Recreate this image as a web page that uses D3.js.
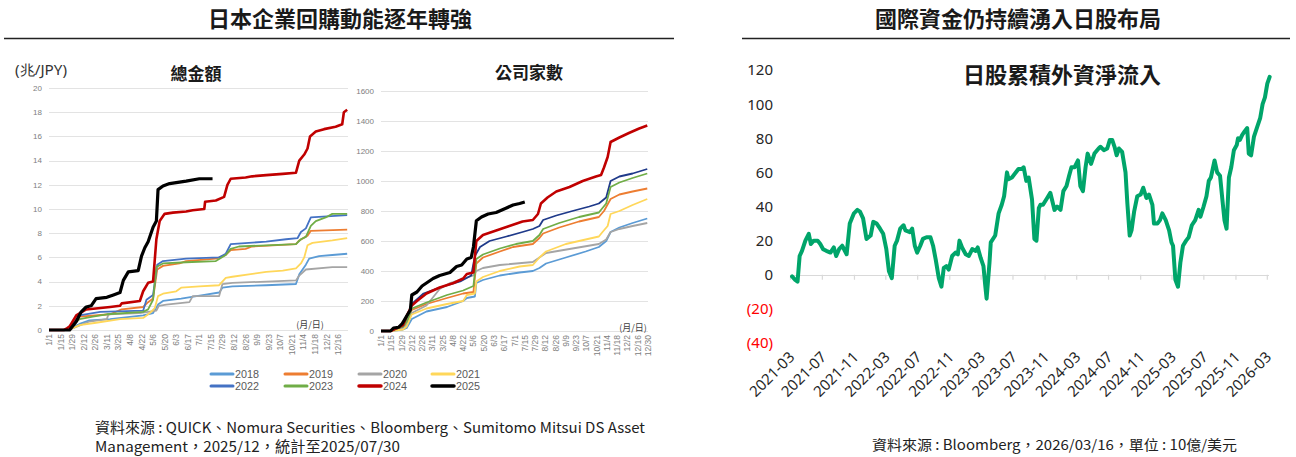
<!DOCTYPE html>
<html><head><meta charset="utf-8">
<script src="https://cdn.jsdelivr.net/npm/d3@7"></script>
<style>
body{margin:0;background:#fff;}
svg{display:block;font-family:"Noto Sans CJK TC","Noto Sans",sans-serif;}
</style></head><body>
<svg id="c" width="1296" height="457"></svg>
<script>
// ---------- data ----------
const years = ["2018","2019","2020","2021","2022","2023","2024","2025"];
const yearColors = ["#5B9BD5","#ED7D31","#A5A5A5","#FFD75A","#4472C4","#70AD47","#C00000","#000000"];
const yearColorsCount = ["#5B9BD5","#ED7D31","#A5A5A5","#FFD75A","#1F3A8A","#70AD47","#C00000","#000000"];
const amountTicks = [0,2,4,6,8,10,12,14,16,18,20];
const countTicks = [0,200,400,600,800,1000,1200,1400,1600];
const dayLabels = ["1/1","1/15","1/29","2/12","2/26","3/11","3/25","4/8","4/22","5/6","5/20","6/3","6/17","7/1","7/15","7/29","8/12","8/26","9/9","9/23","10/7","10/21","11/4","11/18","12/2","12/16","12/30"];

// 總金額 (兆日圓) : [day of year, value]
const amount2018 = [[0,0],[25,0],[27,0.2],[37,0.5],[49,0.8],[74,0.9],[114,1.2],[126,1.4],[132,2.1],[138,2.4],[160,2.6],[188,2.9],[206,3.1],[210,3.5],[222,3.6],[263,3.7],[299,3.8],[303,4.6],[311,5.4],[315,5.9],[327,6.1],[343,6.2],[361,6.3]];
const amount2019 = [[0,0],[25,0],[27,0.3],[37,1.1],[74,1.3],[88,1.7],[114,1.9],[120,2.3],[126,2.6],[131,5.0],[138,5.3],[158,5.5],[166,5.7],[202,5.9],[214,6.2],[220,6.6],[238,6.7],[246,6.9],[299,7.1],[303,7.4],[313,7.8],[317,8.2],[361,8.3]];
const amount2020 = [[0,0],[25,0],[27,0.1],[49,0.7],[70,0.9],[72,1.3],[110,1.4],[130,1.6],[133,2.0],[142,2.1],[170,2.3],[174,2.8],[206,2.8],[210,3.8],[222,3.9],[263,4.0],[299,4.1],[303,4.5],[311,5.0],[343,5.2],[361,5.2]];
const amount2021 = [[0,0],[25,0],[27,0.1],[37,0.4],[57,0.6],[86,0.9],[114,1.0],[122,1.4],[128,1.8],[132,2.8],[138,3.0],[154,3.2],[160,3.5],[182,3.6],[206,3.7],[214,4.3],[222,4.4],[242,4.6],[263,4.8],[283,4.9],[299,5.1],[305,5.5],[309,6.0],[313,7.0],[319,7.2],[343,7.4],[361,7.6]];
const amount2022 = [[0,0],[25,0],[27,0.4],[37,1.2],[62,1.5],[114,1.6],[118,2.5],[126,2.9],[131,5.4],[138,5.7],[166,5.9],[206,6.0],[214,6.3],[220,7.1],[263,7.3],[287,7.5],[301,7.6],[305,8.1],[311,8.4],[317,9.3],[361,9.5]];
const amount2023 = [[0,0],[25,0],[27,0.3],[37,0.9],[53,1.1],[70,1.3],[114,1.5],[120,1.7],[126,2.5],[130,5.2],[138,5.5],[166,5.6],[202,5.7],[214,6.2],[220,6.7],[230,6.9],[263,7.0],[299,7.1],[305,7.5],[311,7.7],[317,8.6],[323,9.0],[335,9.3],[343,9.6],[361,9.6]];
const amount2024 = [[0,0],[18,0],[21,0.1],[25,0.3],[33,1.2],[45,1.7],[74,1.9],[86,2.0],[88,2.2],[110,2.4],[114,3.2],[120,3.9],[126,4.0],[130,7.5],[134,9.0],[140,9.6],[150,9.7],[166,9.8],[174,9.9],[188,10.0],[189,10.6],[202,10.7],[212,11.0],[216,12.0],[220,12.5],[238,12.6],[246,12.7],[263,12.8],[283,12.9],[299,13.0],[303,14.0],[309,14.5],[313,15.0],[316,16.0],[323,16.4],[333,16.6],[347,16.8],[355,17.0],[357,18.0],[361,18.2]];
const amount2025 = [[0,0],[25,0],[33,0.7],[39,1.5],[45,1.9],[51,2.0],[57,2.6],[70,2.7],[78,2.9],[86,3.1],[90,4.1],[96,4.8],[108,4.9],[112,6.1],[116,6.8],[120,7.3],[126,8.5],[130,9.0],[132,11.6],[138,11.9],[146,12.1],[166,12.3],[182,12.5],[198,12.5]];

// 公司家數 : [day of year, value]
const count2018 = [[0,0],[13,0],[30,10],[35,20],[42,80],[62,130],[90,160],[112,200],[117,220],[128,230],[130,320],[139,340],[162,370],[189,390],[207,400],[216,420],[225,450],[252,490],[279,530],[297,560],[307,600],[313,660],[325,690],[343,720],[363,750]];
const count2019 = [[0,0],[13,0],[30,30],[35,60],[42,140],[62,180],[90,220],[112,250],[126,260],[130,450],[139,490],[162,530],[180,560],[207,580],[216,620],[221,650],[243,690],[270,730],[297,760],[304,800],[313,880],[325,910],[343,930],[363,950]];
const count2020 = [[0,0],[13,0],[30,20],[35,40],[42,120],[62,170],[80,280],[94,320],[126,370],[130,400],[139,420],[162,440],[207,460],[216,490],[225,520],[261,550],[297,580],[307,610],[313,660],[325,680],[343,700],[363,720]];
const count2021 = [[0,0],[13,0],[30,10],[35,30],[42,110],[62,150],[90,180],[112,200],[117,240],[128,250],[130,330],[139,360],[162,400],[189,430],[207,440],[216,490],[225,530],[252,580],[279,610],[297,630],[302,660],[309,700],[313,780],[325,800],[343,840],[363,880]];
const count2022 = [[0,0],[13,0],[30,30],[35,80],[42,180],[58,250],[80,290],[108,330],[123,370],[128,500],[135,560],[148,600],[171,630],[193,660],[207,680],[216,700],[221,740],[239,770],[261,800],[284,830],[297,850],[307,890],[313,1000],[325,1030],[343,1050],[363,1080]];
const count2023 = [[0,0],[13,0],[30,30],[35,60],[42,150],[62,190],[90,240],[112,270],[126,300],[130,480],[139,510],[162,550],[184,580],[207,600],[216,640],[221,680],[243,720],[270,760],[297,790],[307,850],[313,960],[325,990],[343,1020],[363,1050]];
const count2024 = [[0,0],[13,0],[30,40],[35,100],[42,170],[49,200],[62,250],[80,290],[99,320],[112,350],[117,380],[126,390],[130,600],[139,640],[157,670],[175,700],[193,730],[207,740],[214,780],[218,850],[227,890],[239,930],[257,960],[275,1000],[293,1030],[300,1040],[304,1090],[309,1160],[313,1260],[325,1290],[338,1320],[352,1350],[363,1370]];
const count2025 = [[0,0],[13,0],[17,20],[24,25],[29,50],[35,100],[40,140],[42,240],[49,260],[56,300],[62,320],[71,350],[80,370],[94,390],[103,430],[110,440],[117,480],[123,490],[126,560],[130,735],[137,760],[146,780],[157,790],[171,820],[180,840],[189,850],[196,860]];

// 日股累積外資淨流入 (10億美元)
const flowDates = ["2021-03-07","2021-03-19","2021-03-28","2021-04-05","2021-04-14","2021-04-27","2021-05-10","2021-05-18","2021-05-29","2021-06-13","2021-06-23","2021-07-04","2021-07-16","2021-08-01","2021-08-14","2021-08-23","2021-09-03","2021-09-15","2021-10-02","2021-10-14","2021-10-30","2021-11-12","2021-11-22","2021-12-04","2021-12-17","2022-01-02","2022-01-12","2022-01-25","2022-02-07","2022-02-19","2022-03-03","2022-03-13","2022-03-24","2022-04-04","2022-04-13","2022-04-25","2022-05-08","2022-05-15","2022-06-01","2022-06-10","2022-06-20","2022-06-29","2022-07-11","2022-07-21","2022-08-04","2022-08-19","2022-08-29","2022-09-08","2022-09-20","2022-09-30","2022-10-09","2022-10-19","2022-10-28","2022-11-10","2022-11-23","2022-12-02","2022-12-08","2022-12-18","2023-01-01","2023-01-13","2023-01-26","2023-02-08","2023-02-16","2023-02-27","2023-03-10","2023-03-16","2023-03-22","2023-04-02","2023-04-07","2023-04-24","2023-05-07","2023-05-19","2023-05-28","2023-06-08","2023-06-14","2023-06-27","2023-07-22","2023-08-04","2023-08-11","2023-08-21","2023-08-30","2023-09-12","2023-09-21","2023-09-29","2023-10-08","2023-10-14","2023-10-24","2023-11-09","2023-11-21","2023-12-07","2023-12-17","2023-12-30","2024-01-10","2024-01-22","2024-02-01","2024-02-10","2024-02-22","2024-03-06","2024-03-15","2024-03-25","2024-04-04","2024-04-12","2024-04-25","2024-05-08","2024-05-24","2024-05-31","2024-06-13","2024-06-26","2024-07-06","2024-07-15","2024-07-24","2024-08-01","2024-08-10","2024-08-22","2024-09-04","2024-09-11","2024-09-20","2024-09-27","2024-10-07","2024-10-19","2024-11-01","2024-11-11","2024-11-23","2024-12-03","2024-12-16","2024-12-22","2025-01-04","2025-01-14","2025-01-23","2025-02-05","2025-02-18","2025-02-27","2025-03-05","2025-03-14","2025-03-24","2025-04-02","2025-04-12","2025-04-24","2025-05-04","2025-05-16","2025-05-29","2025-06-11","2025-06-18","2025-06-30","2025-07-11","2025-07-20","2025-07-28","2025-08-11","2025-08-21","2025-09-01","2025-09-10","2025-09-18","2025-09-26","2025-10-05","2025-10-14","2025-10-24","2025-11-04","2025-11-09","2025-11-16","2025-11-25","2025-12-04","2025-12-14","2025-12-20","2025-12-29","2026-01-09","2026-01-22","2026-02-02","2026-02-11","2026-02-20","2026-03-01","2026-03-10"];
const flowValues = [-1,-3,-4,11,14,20,24,18,20,20,18,15,14,13,16,11,15,17,12,30,36,38,37,33,21,23,31,30,27,24,15,2,-2,17,20,27,29,26,25,27,17,13,17,21,22,22,17,9,-2,-7,4,5,3,11,13,12,20,16,12,11,15,14,16,10,5,-5,-14,7,19,23,36,41,46,60,56,57,62,62,63,55,57,44,21,20,39,41,41,45,48,38,40,38,49,52,58,63,63,67,52,49,63,71,65,71,74,75,73,74,79,79,75,70,74,72,60,42,23,26,37,46,47,51,45,47,41,30,30,32,36,32,26,19,17,-3,-7,7,17,20,22,29,32,38,34,40,46,55,57,67,60,58,44,32,27,57,63,73,76,80,79,82,84,86,71,70,81,87,92,100,104,112,116];
const flowTicks = [-40,-20,0,20,40,60,80,100,120];
const flowAxisDates = ["2021-03","2021-07","2021-11","2022-03","2022-07","2022-11","2023-03","2023-07","2023-11","2024-03","2024-07","2024-11","2025-03","2025-07","2025-11","2026-03"];

const amountSeries = [amount2018,amount2019,amount2020,amount2021,amount2022,amount2023,amount2024,amount2025];
const countSeries = [count2018,count2019,count2020,count2021,count2022,count2023,count2024,count2025];

// ---------- drawing ----------
const svg = d3.select("#c");
svg.append("rect").attr("width",1296).attr("height",457).attr("fill","#fff");

// Header titles
svg.append("text").attr("x",340).attr("y",27).attr("text-anchor","middle")
  .attr("font-size",22).attr("font-weight",700).attr("fill","#1a1a1a").text("日本企業回購動能逐年轉強");
svg.append("line").attr("x1",4).attr("x2",674).attr("y1",38.5).attr("y2",38.5).attr("stroke","#222").attr("stroke-width",1.4);
svg.append("text").attr("x",1018).attr("y",27).attr("text-anchor","middle")
  .attr("font-size",22).attr("font-weight",700).attr("fill","#1a1a1a").text("國際資金仍持續湧入日股布局");
svg.append("line").attr("x1",742).attr("x2",1290).attr("y1",38.5).attr("y2",38.5).attr("stroke","#222").attr("stroke-width",1.4);

function smallChart(cfg){
  const g = svg.append("g");
  const x = d3.scaleLinear().domain(cfg.xDomain).range(cfg.xRange);
  const y = d3.scaleLinear().domain(cfg.yDomain).range(cfg.yRange);
  // grid
  g.selectAll(".grid").data(cfg.yTicks).join("line")
    .attr("x1",cfg.xRange[0]).attr("x2",cfg.xRange[1])
    .attr("y1",d=>Math.round(y(d))+0.5).attr("y2",d=>Math.round(y(d))+0.5)
    .attr("stroke","#e3e3e3").attr("stroke-width",1);
  // y labels
  g.selectAll(".yl").data(cfg.yTicks).join("text")
    .attr("x",cfg.xRange[0]-7).attr("y",d=>y(d)).attr("dy","0.35em")
    .attr("text-anchor","end").attr("font-size",8).attr("fill","#808080")
    .attr("font-family","Liberation Sans, Arial, sans-serif").text(d=>d);
  // x labels
  g.selectAll(".xl").data(cfg.labels).join("text")
    .attr("transform",(d,i)=>`translate(${x(i*14)+3},${cfg.labelY}) rotate(-90)`)
    .attr("text-anchor","end").attr("font-size",8.5).attr("fill","#808080")
    .attr("font-family","Liberation Sans, Arial, sans-serif").text(d=>d);
  // lines
  const line = d3.line().x(d=>x(d[0])).y(d=>y(d[1]));
  cfg.series.forEach((s,i)=>{
    g.append("path").datum(s).attr("d",line).attr("fill","none")
      .attr("stroke",cfg.colors[i])
      .attr("stroke-width", i===7?3.2:(i===6?2.6:1.8))
      .attr("stroke-linejoin","round");
  });
  // titles
  g.append("text").attr("x",cfg.titleX).attr("y",cfg.titleY).attr("text-anchor","middle")
    .attr("font-size",17).attr("font-weight",700).attr("fill","#1a1a1a").text(cfg.title);
  g.append("text").attr("x",cfg.unitX).attr("y",cfg.unitY).attr("text-anchor","middle")
    .attr("font-size",9).attr("fill","#404040").text("(月/日)");
}

smallChart({xDomain:[0,362],xRange:[49,348],yDomain:[0,20],yRange:[330,88],yTicks:amountTicks,
  labels:dayLabels.slice(0,26),labelY:334,series:amountSeries,colors:yearColors,
  title:"總金額",titleX:196,titleY:80,unitX:310,unitY:328});
smallChart({xDomain:[0,364],xRange:[381,648],yDomain:[0,1600],yRange:[331,91],yTicks:countTicks,
  labels:dayLabels,labelY:335,series:countSeries,colors:yearColorsCount,
  title:"公司家數",titleX:529,titleY:79,unitX:633,unitY:331});

svg.append("text").attr("x",15).attr("y",75).attr("font-size",14).attr("fill","#333")
  .attr("textLength",52).attr("lengthAdjust","spacingAndGlyphs")
  .attr("font-family","Noto Sans, sans-serif").text("(兆/JPY)");

// legend
const legCols = [211,285,359,432];
years.forEach((yr,i)=>{
  const lx = legCols[i%4], ly = i<4?374:386;
  svg.append("line").attr("x1",lx).attr("x2",lx+22).attr("y1",ly).attr("y2",ly)
    .attr("stroke",yearColors[i]).attr("stroke-width",i>=6?3.5:3).attr("stroke-linecap","round");
  svg.append("text").attr("x",lx+24).attr("y",ly).attr("dy","0.36em").attr("font-size",11.5)
    .attr("textLength",24).attr("lengthAdjust","spacingAndGlyphs")
    .attr("fill","#595959").attr("font-family","Liberation Sans Narrow, Liberation Sans, sans-serif").text(yr);
});

// left source
svg.append("text").attr("x",95).attr("y",433).attr("font-size",14.5).attr("fill","#222")
  .attr("textLength",550).attr("lengthAdjust","spacingAndGlyphs")
  .text("資料來源 : QUICK、Nomura Securities、Bloomberg、Sumitomo Mitsui DS Asset");
svg.append("text").attr("x",95).attr("y",452).attr("font-size",14.5).attr("fill","#222")
  .attr("textLength",305).attr("lengthAdjust","spacingAndGlyphs")
  .text("Management，2025/12，統計至2025/07/30");

// ---------- right chart ----------
const parseD = d3.timeParse("%Y-%m-%d");
const parseM = d3.timeParse("%Y-%m");
const xr = d3.scaleTime().domain([parseM("2021-03"),parseM("2026-03")]).range([790.5,1267.3]);
const yr = d3.scaleLinear().domain([-40,120]).range([343,70]);
const gr = svg.append("g");
gr.selectAll(".yl").data(flowTicks).join("text")
  .attr("x",773).attr("y",d=>yr(d)).attr("dy","0.36em").attr("text-anchor","end")
  .attr("font-size",15).attr("font-family","Noto Sans, sans-serif")
  .attr("fill",d=>d<0?"#ff0000":"#262626")
  .text(d=>d<0?`(${-d})`:d);
gr.append("line").attr("x1",xr(parseM("2021-03"))).attr("x2",1269)
  .attr("y1",Math.round(yr(0))+0.5).attr("y2",Math.round(yr(0))+0.5).attr("stroke","#d9d9d9").attr("stroke-width",1.2);
gr.selectAll(".tk").data(flowAxisDates).join("line")
  .attr("x1",d=>xr(parseM(d))).attr("x2",d=>xr(parseM(d)))
  .attr("y1",yr(0)).attr("y2",yr(0)+5).attr("stroke","#d9d9d9").attr("stroke-width",1.2);
gr.selectAll(".xl").data(flowAxisDates).join("text")
  .attr("transform",d=>`translate(${xr(parseM(d))+5},${358}) rotate(-45)`)
  .attr("text-anchor","end").attr("font-size",15).attr("font-family","Noto Sans, sans-serif")
  .attr("fill","#262626").text(d=>d);
const flow = flowDates.map((d,i)=>[parseD(d),flowValues[i]]);
gr.append("path").datum(flow)
  .attr("d",d3.line().x(d=>xr(d[0])).y(d=>yr(d[1])))
  .attr("fill","none").attr("stroke","#00A56A").attr("stroke-width",4)
  .attr("stroke-linejoin","round").attr("stroke-linecap","round");
gr.append("text").attr("x",1062).attr("y",83).attr("text-anchor","middle")
  .attr("font-size",22).attr("font-weight",600).attr("fill","#1a1a1a").text("日股累積外資淨流入");
svg.append("text").attr("x",872).attr("y",450).attr("font-size",14).attr("fill","#222")
  .attr("textLength",365).attr("lengthAdjust","spacingAndGlyphs")
  .text("資料來源 : Bloomberg，2026/03/16，單位 : 10億/美元");
</script>
</body></html>
